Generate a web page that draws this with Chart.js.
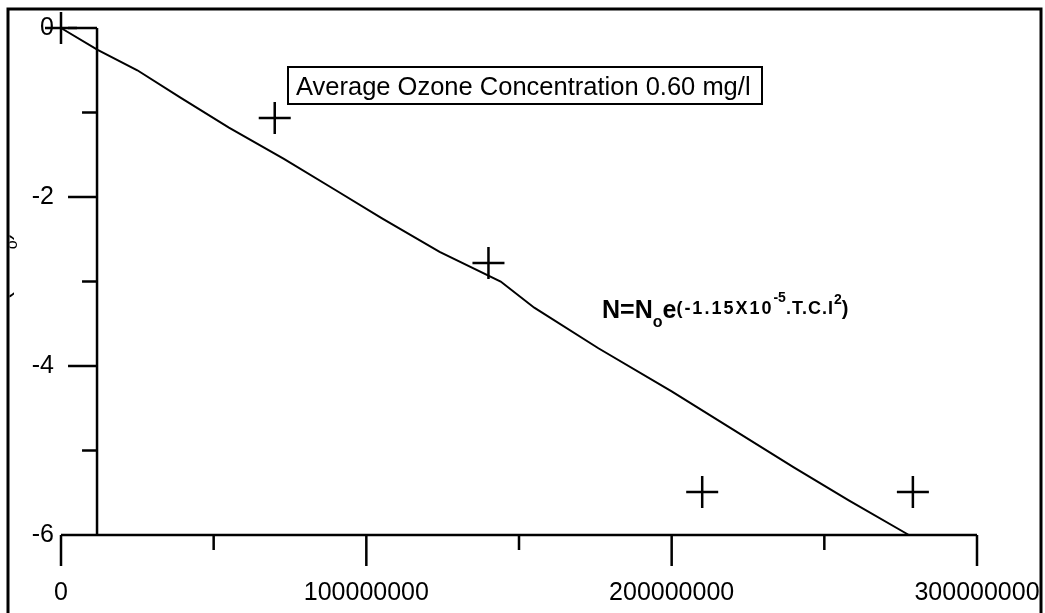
<!DOCTYPE html>
<html>
<head>
<meta charset="utf-8">
<script src="https://cdn.jsdelivr.net/npm/chart.js@4"></script>
<style>
  html, body { margin: 0; padding: 0; background: #fff; }
  canvas { display: block; }
</style>
</head>
<body>
<canvas id="myChart" width="1045" height="613"></canvas>
<script>
// measured points (time x conc product vs ln(N/No))
var pointX = [0, 70000000, 140000000, 210000000, 279000000];
var pointY = [0, -1.065, -2.78, -5.49, -5.49];

// fitted curve
var curveX = [0, 12000000, 25000000, 39000000, 55000000, 73000000, 90000000, 105000000,
  124000000, 144000000, 155000000, 176000000, 200000000, 220000000, 240000000, 258000000, 277700000];
var curveY = [0, -0.26, -0.50, -0.82, -1.18, -1.55, -1.92, -2.25,
  -2.65, -3.0, -3.31, -3.79, -4.3, -4.75, -5.2, -5.59, -6];

var xTicks = [0, 100000000, 200000000, 300000000];
var xMinor = [50000000, 150000000, 250000000];
var yTicks = [0, -2, -4, -6];
var yMinor = [-1, -3, -5];
var yAxisAt = 11800000;

var FONT = '"Liberation Sans", Arial, sans-serif';

function toXY(xs, ys) {
  return xs.map(function (x, i) { return { x: x, y: ys[i] }; });
}

var axesPlugin = {
  id: 'axesPlugin',
  beforeDraw: function (chart) {
    var c = chart.ctx;
    c.save();
    c.fillStyle = '#fff';
    c.fillRect(0, 0, chart.width, chart.height);
    c.restore();
  },
  afterDraw: function (chart) {
    var c = chart.ctx;
    var xs = chart.scales.x, ys = chart.scales.y;
    var ax = xs.getPixelForValue(yAxisAt);
    var bottom = ys.getPixelForValue(-6);
    c.save();
    c.strokeStyle = '#000';
    c.fillStyle = '#000';
    c.lineWidth = 2.5;
    c.lineCap = 'butt';

    // y axis
    c.beginPath();
    c.moveTo(ax, ys.getPixelForValue(0));
    c.lineTo(ax, bottom);
    yTicks.forEach(function (v) {
      var p = ys.getPixelForValue(v);
      c.moveTo(ax - 29, p); c.lineTo(ax, p);
    });
    yMinor.forEach(function (v) {
      var p = ys.getPixelForValue(v);
      c.moveTo(ax - 15, p); c.lineTo(ax, p);
    });
    // x axis
    c.moveTo(xs.getPixelForValue(0), bottom);
    c.lineTo(xs.getPixelForValue(300000000), bottom);
    xTicks.forEach(function (v) {
      var p = xs.getPixelForValue(v);
      c.moveTo(p, bottom); c.lineTo(p, bottom + 31);
    });
    xMinor.forEach(function (v) {
      var p = xs.getPixelForValue(v);
      c.moveTo(p, bottom); c.lineTo(p, bottom + 15);
    });
    c.stroke();

    // tick labels
    c.font = '25px ' + FONT;
    c.textAlign = 'right';
    c.textBaseline = 'middle';
    yTicks.forEach(function (v) {
      c.fillText(String(v), 54, ys.getPixelForValue(v));
    });
    c.textAlign = 'center';
    xTicks.forEach(function (v) {
      c.fillText(String(v), xs.getPixelForValue(v), bottom + 58);
    });

    // legend-like box
    c.lineWidth = 2;
    c.strokeRect(288, 67, 474, 37);
    c.font = '25.5px ' + FONT;
    c.textAlign = 'left';
    c.textBaseline = 'alphabetic';
    c.fillText('Average Ozone Concentration 0.60 mg/l', 296, 95);

    // formula annotation
    var pieces = [
      ['N=N', 25, 318, 0],
      ['o', 16, 327, 0],
      ['e', 25, 318, 0],
      ['(-1.15X10', 18, 314, 2],
      ['-5', 14, 302, 0],
      ['.T.C.I', 18, 314, 1],
      ['2', 14, 304, 0],
      [')', 20, 315, 0]
    ];
    var fx = 602;
    pieces.forEach(function (p) {
      c.font = 'bold ' + p[1] + 'px ' + FONT;
      c.letterSpacing = p[3] + 'px';
      c.fillText(p[0], fx, p[2]);
      fx += c.measureText(p[0]).width;
    });
    c.letterSpacing = '0px';

    // clipped y title
    c.save();
    c.beginPath();
    c.rect(9.5, 0, 50, chart.height);
    c.clip();
    c.translate(9, 320);
    c.rotate(-Math.PI / 2);
    c.font = '25px ' + FONT;
    c.fillText('ln(N/N', 0, 0);
    var w = c.measureText('ln(N/N').width;
    c.font = '16px ' + FONT;
    c.fillText('o', w, 8);
    w += c.measureText('o').width;
    c.font = '25px ' + FONT;
    c.fillText(')', w, 0);
    c.restore();

    // outer frame
    c.lineWidth = 3;
    c.strokeRect(8, 9, 1033, 700);
    c.restore();
  }
};

var ctx = document.getElementById('myChart').getContext('2d');
var myChart = new Chart(ctx, {
  type: 'scatter',
  data: {
    datasets: [{
      data: toXY(curveX, curveY),
      showLine: true,
      borderColor: '#000',
      borderWidth: 2,
      pointRadius: 0,
      tension: 0,
      clip: false
    }, {
      data: toXY(pointX, pointY),
      pointStyle: 'cross',
      pointRadius: 16,
      pointHoverRadius: 16,
      borderColor: '#000',
      pointBorderWidth: 2.5,
      showLine: false,
      clip: false
    }]
  },
  options: {
    responsive: false,
    animation: false,
    devicePixelRatio: 1,
    layout: { padding: { left: 61, right: 68, top: 28, bottom: 78 } },
    scales: {
      x: { type: 'linear', min: 0, max: 300000000, display: false },
      y: { type: 'linear', min: -6, max: 0, display: false }
    },
    plugins: {
      legend: { display: false },
      tooltip: { enabled: false }
    }
  },
  plugins: [axesPlugin]
});
</script>
</body>
</html>
